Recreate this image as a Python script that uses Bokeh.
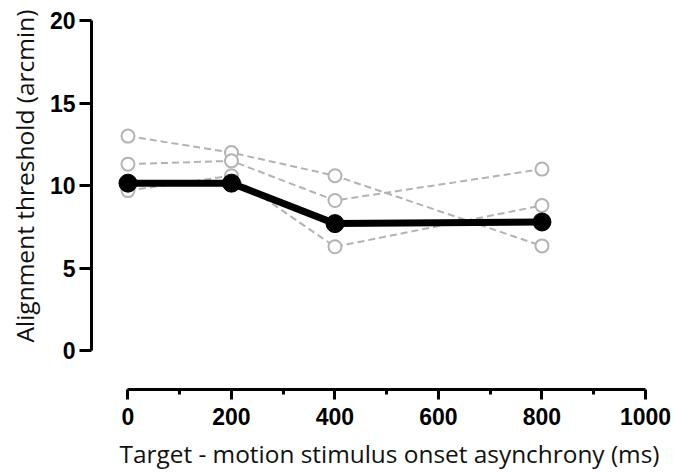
from bokeh.plotting import figure
from bokeh.embed import file_html
from bokeh.resources import INLINE
from bokeh.models import Range1d, FixedTicker, Title

# Data
soa = [0, 200, 400, 800]
subject_1 = [13.0, 12.0, 10.6, 6.35]
subject_2 = [11.3, 11.5, 9.1, 11.0]
subject_3 = [9.7, 10.6, 6.3, 8.8]
mean_threshold = [10.15, 10.15, 7.7, 7.8]
x_ticks = [0, 200, 400, 600, 800, 1000]
x_minor = [100, 300, 500, 700, 900]
y_ticks = [0, 5, 10, 15, 20]
x_title = "Target - motion stimulus onset asynchrony (ms)"
y_title = "Alignment threshold (arcmin)"

p = figure(width=673, height=476, output_backend="svg", toolbar_location=None,
           title=None,
           x_range=Range1d(-70.5, 1009.7), y_range=Range1d(-2.342, 20.36),
           min_border_left=91, min_border_right=23, min_border_top=14, min_border_bottom=84)
p.outline_line_color = None
p.grid.visible = False
p.background_fill_color = "white"
p.border_fill_color = "white"

gray = "#b3b3b3"
for s in [subject_1, subject_2, subject_3]:
    p.line(soa, s, line_color=gray, line_width=2, line_dash="7 4")
for s in [subject_1, subject_2, subject_3]:
    p.scatter(soa, s, size=13, marker="circle", line_color=gray, line_width=2,
              fill_color="white")

p.line(soa, mean_threshold, line_color="black", line_width=7)
p.scatter(soa, mean_threshold, size=18, marker="circle", fill_color="black", line_color="black")

for ax in [p.xaxis[0], p.yaxis[0]]:
    ax.axis_line_width = 3
    ax.major_tick_line_width = 3
    ax.minor_tick_line_width = 3
    ax.major_tick_in = 0
    ax.minor_tick_in = 0
    ax.major_label_text_font = "Liberation Sans"
    ax.major_label_text_font_style = "bold"
    ax.major_label_text_font_size = "23px"
    ax.major_label_text_color = "black"

p.xaxis.ticker = FixedTicker(ticks=x_ticks, minor_ticks=x_minor)
p.xaxis.bounds = (0, 1000)
p.xaxis.major_tick_out = 10
p.xaxis.minor_tick_out = 5
p.xaxis.major_label_standoff = 8

p.yaxis.ticker = FixedTicker(ticks=y_ticks, minor_ticks=[])
p.yaxis.bounds = (0, 20)
p.yaxis.major_tick_out = 12
p.yaxis.minor_tick_out = 0
p.yaxis.major_label_standoff = 4

p.add_layout(Title(text=x_title, align="left", offset=28, standoff=14,
                   text_line_height=0.75,
                   text_font="Open Sans", text_font_style="normal",
                   text_font_size="24.4px", text_color="#111111"), "below")
p.add_layout(Title(text=y_title, align="left", offset=47, standoff=11,
                   text_font="Open Sans", text_font_style="normal",
                   text_font_size="24.5px", text_color="#111111"), "left")

open("out.html", "w").write(file_html(p, INLINE))
